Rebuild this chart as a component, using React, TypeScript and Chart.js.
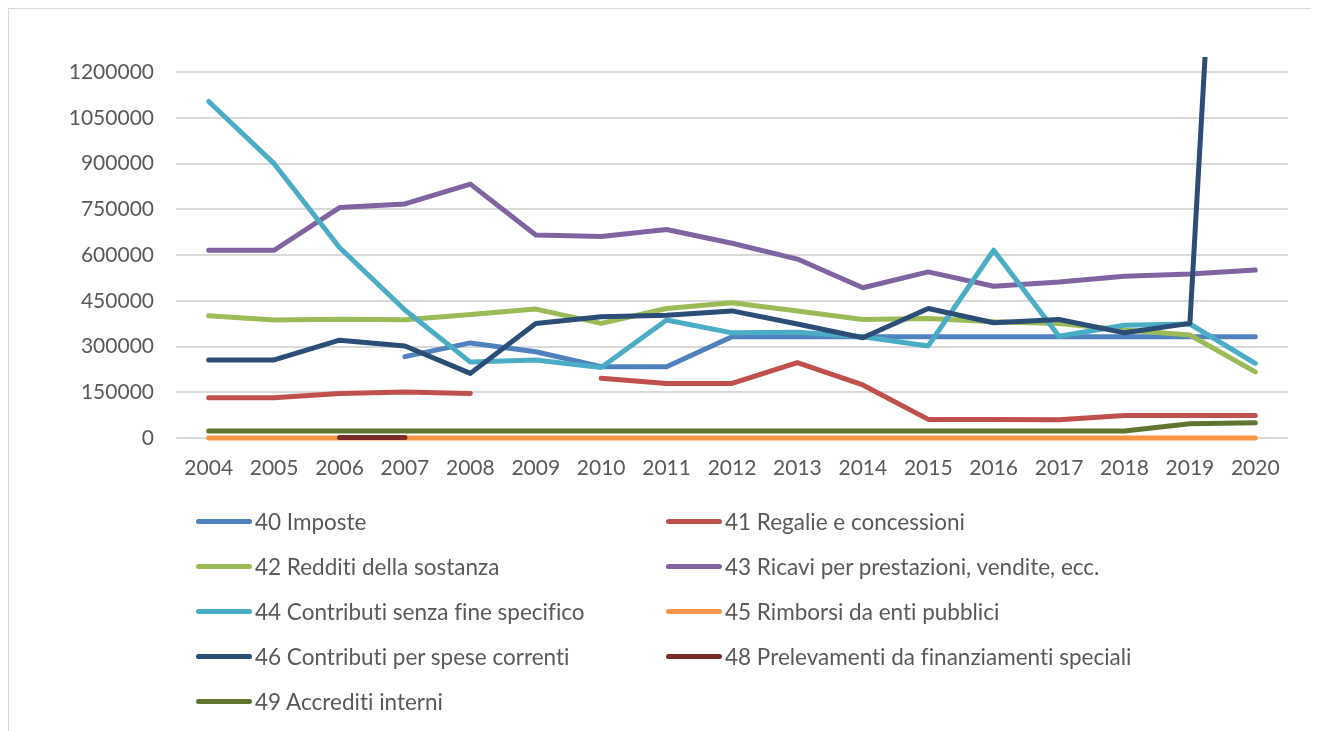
import React, { useEffect, useRef } from "react";
import { Chart, registerables } from "chart.js";

Chart.register(...registerables);

const years = ["2004", "2005", "2006", "2007", "2008", "2009", "2010", "2011", "2012", "2013", "2014", "2015", "2016", "2017", "2018", "2019", "2020"];

const seriesNames = [
  "40 Imposte",
  "41 Regalie e concessioni",
  "42 Redditi della sostanza",
  "43 Ricavi per prestazioni, vendite, ecc.",
  "44 Contributi senza fine specifico",
  "45 Rimborsi da enti pubblici",
  "46 Contributi per spese correnti",
  "48 Prelevamenti da finanziamenti speciali",
  "49 Accrediti interni",
];

const s40 = [null, null, null, 267000, 312000, 283000, 234000, 234000, 332000, 332000, 332000, 332000, 332000, 332000, 332000, 332000, 332000];
const s41 = [132000, 132000, 146000, 151000, 146000, null, 196000, 179000, 179000, 247000, 174000, 61000, 61000, 60000, 74000, 74000, 74000];
const s42 = [401000, 387000, 390000, 388000, 405000, 423000, 376000, 425000, 444000, 417000, 389000, 392000, 381000, 376000, 354000, 338000, 217000];
const s43 = [616000, 616000, 756000, 768000, 833000, 666000, 661000, 684000, 639000, 587000, 493000, 545000, 498000, 512000, 531000, 538000, 551000];
const s44 = [1104000, 900000, 625000, 420000, 249000, 256000, 231000, 387000, 345000, 347000, 332000, 302000, 616000, 334000, 370000, 374000, 245000];
const s45 = [0, 0, 0, 0, 0, 0, 0, 0, 0, 0, 0, 0, 0, 0, 0, 0, 0];
const s46 = [256000, 256000, 321000, 302000, 212000, 376000, 398000, 403000, 417000, 374000, 329000, 425000, 378000, 389000, 345000, 376000, 4150000];
const s48 = [null, null, 2000, 2000, null, null, null, null, null, null, null, null, null, null, null, null, null];
const s49 = [23000, 23000, 23000, 23000, 23000, 23000, 23000, 23000, 23000, 23000, 23000, 23000, 23000, 23000, 23000, 47000, 50000];

const seriesValues = [s40, s41, s42, s43, s44, s45, s46, s48, s49];
const seriesColors = ["#4F81BD", "#C0504D", "#9BBB59", "#8064A2", "#4BACC6", "#F79646", "#2C4D75", "#772C2A", "#5F7530"];

const yTicks = [0, 150000, 300000, 450000, 600000, 750000, 900000, 1050000, 1200000];

const FONT = "Lato, 'Open Sans', sans-serif";
const TEXT = "#595959";

export default function App() {
  const ref = useRef<HTMLCanvasElement | null>(null);

  useEffect(() => {
    if (!ref.current) return;
    const chart = new Chart(ref.current, {
      type: "line",
      data: {
        labels: years,
        datasets: seriesValues.map((vals, i) => ({
          label: seriesNames[i],
          data: vals,
          borderColor: seriesColors[i],
          backgroundColor: seriesColors[i],
          borderWidth: 5,
          pointRadius: 0,
          pointHoverRadius: 0,
          tension: 0,
          fill: false,
          spanGaps: false,
          borderCapStyle: "round",
          borderJoinStyle: "round",
          order: 100 - i,
          clip: { left: 6, right: 6, top: 0, bottom: 6 },
        })),
      },
      options: {
        animation: false,
        responsive: false,
        maintainAspectRatio: false,
        layout: { padding: { left: 0, top: 48, right: 24, bottom: 249 } },
        plugins: { legend: { display: false }, tooltip: { enabled: false }, title: { display: false } },
        scales: {
          x: {
            offset: true,
            grid: { display: false, drawTicks: false },
            border: { display: false },
            ticks: { color: TEXT, font: { family: FONT, size: 21 }, padding: 18, maxRotation: 0, autoSkip: false },
            afterFit: (scale: any) => { scale.height = 50; },
          },
          y: {
            min: 0,
            max: 1250000,
            grid: { color: "#D9D9D9", lineWidth: 2, drawTicks: false },
            border: { display: false },
            ticks: {
              color: TEXT,
              font: { family: FONT, size: 21 },
              padding: 22,
              includeBounds: false,
              callback: (v: any) => String(v),
            },
            afterBuildTicks: (scale: any) => { scale.ticks = yTicks.map((v) => ({ value: v })); },
            afterFit: (scale: any) => { scale.width = 167; },
          },
        },
      },
    });
    return () => chart.destroy();
  }, []);

  const legendLeft = [187, 657];
  const rowCenters = [512.7, 557.7, 602.7, 647.7, 692.7];

  return (
    <div style={{ position: "relative", width: 1305, height: 730, border: "1px solid #D9D9D9", boxSizing: "border-box", background: "#fff" }}>
      <canvas ref={ref} width={1303} height={728} style={{ position: "absolute", left: 0, top: 0, width: 1303, height: 728 }} />
      {seriesNames.map((name, i) => {
        const col = i % 2;
        const row = Math.floor(i / 2);
        return (
          <div key={name} style={{ position: "absolute", left: legendLeft[col], top: rowCenters[row] - 15, height: 30, display: "flex", alignItems: "center", whiteSpace: "nowrap" }}>
            <span style={{ display: "inline-block", width: 56, height: 5, borderRadius: 3, background: seriesColors[i] }} />
            <span style={{ marginLeft: 3, fontFamily: FONT, fontSize: 22.5, color: TEXT, fontVariantLigatures: "none" }}>{name}</span>
          </div>
        );
      })}
    </div>
  );
}
